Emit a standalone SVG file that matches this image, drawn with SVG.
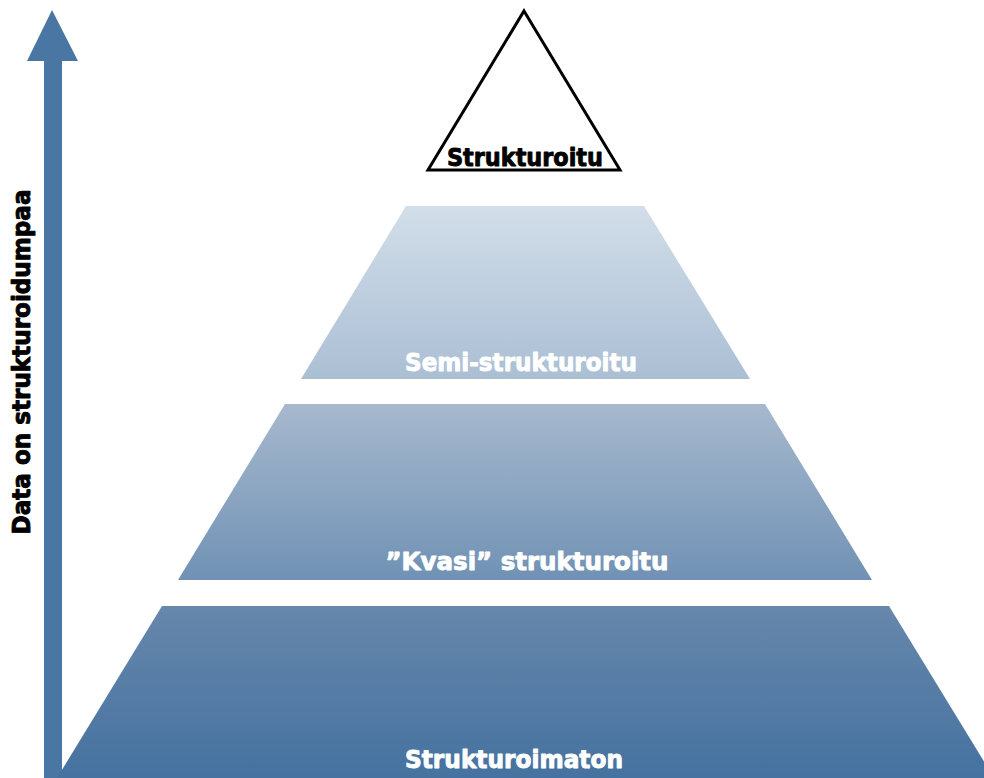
<svg xmlns="http://www.w3.org/2000/svg" width="984" height="778" viewBox="0 0 984 778">
<style>
.lbl{font-family:"DejaVu Sans","Liberation Sans",sans-serif;font-weight:bold;font-size:24px;text-anchor:middle;stroke-width:0.9;stroke-linejoin:round}
.w{fill:#ffffff;stroke:#ffffff}
.b{fill:#000000;stroke:#000000}
</style>
<defs>
<linearGradient id="pg" gradientUnits="userSpaceOnUse" x1="0" y1="206" x2="0" y2="778">
<stop offset="0" stop-color="#d2dee9"/>
<stop offset="0.3" stop-color="#abbfd4"/>
<stop offset="0.35" stop-color="#a6b8cd"/>
<stop offset="0.65" stop-color="#7192b5"/>
<stop offset="0.7" stop-color="#6787ab"/>
<stop offset="1" stop-color="#4572a0"/>
</linearGradient>
</defs>
<rect width="984" height="778" fill="#ffffff"/>
<g id="axis">
<polygon points="52,10 78,61 62,61 62,778 44,778 44,61 27,61" fill="#4a76a3"/>
<text class="lbl b" transform="translate(30,362) rotate(-90)" font-size="23" textLength="345" lengthAdjust="spacingAndGlyphs">Data on strukturoidumpaa</text>
</g>
<g id="strukturoimaton">
<polygon points="162,606 889,606 994,778 57,778" fill="url(#pg)"/>
<text class="lbl w" x="514" y="768" textLength="218" lengthAdjust="spacingAndGlyphs">Strukturoimaton</text>
</g>
<g id="kvasi">
<polygon points="285,404 765,404 872,580 178,580" fill="url(#pg)"/>
<text class="lbl w" x="527" y="570" textLength="283" lengthAdjust="spacingAndGlyphs">”Kvasi” strukturoitu</text>
</g>
<g id="semi">
<polygon points="406,206 644,206 750,379 301,379" fill="url(#pg)"/>
<text class="lbl w" x="521" y="371" textLength="232" lengthAdjust="spacingAndGlyphs">Semi-strukturoitu</text>
</g>
<g id="strukturoitu">
<polygon points="524,11 620,170 428,170" fill="#ffffff" stroke="#000000" stroke-width="3" stroke-linejoin="miter"/>
<text class="lbl b" x="525" y="166" textLength="156" lengthAdjust="spacingAndGlyphs">Strukturoitu</text>
</g>
<g id="connectors"></g>
</svg>
